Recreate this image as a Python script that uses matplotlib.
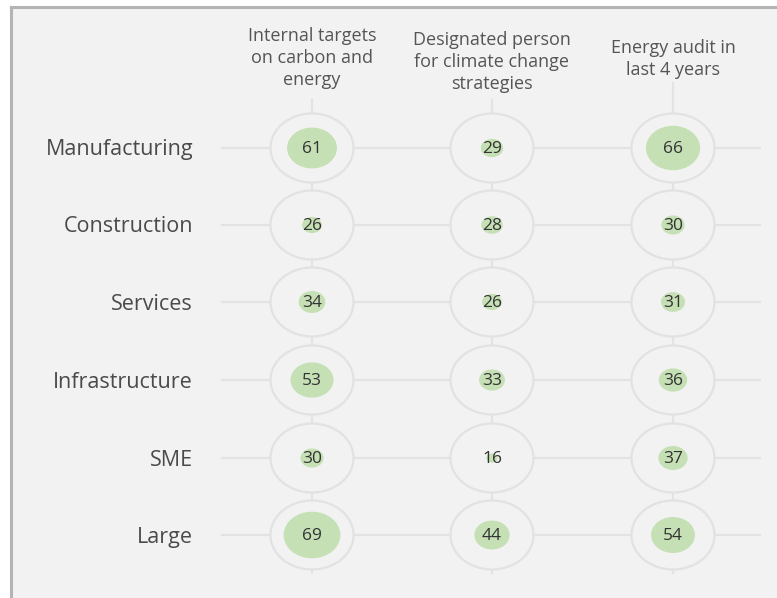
import matplotlib
matplotlib.use("Agg")
import matplotlib.pyplot as plt
from matplotlib.patches import Ellipse, Rectangle

# Share of firms (%) taking each climate action, by sector / size
categories = ["Manufacturing", "Construction", "Services", "Infrastructure", "SME", "Large"]
measures = [
    "Internal targets\non carbon and\nenergy",
    "Designated person\nfor climate change\nstrategies",
    "Energy audit in\nlast 4 years",
]
internal_targets = [61, 26, 34, 53, 30, 69]
designated_person = [29, 28, 26, 33, 16, 44]
energy_audit = [66, 30, 31, 36, 37, 54]
series = [internal_targets, designated_person, energy_audit]

W, H = 777, 598
fig = plt.figure(figsize=(W / 100, H / 100), dpi=100)
fig.patch.set_facecolor("white")
ax = fig.add_axes([0, 0, 1, 1])
ax.set_xlim(0, W)
ax.set_ylim(H, 0)
ax.axis("off")

FONT = "Open Sans"
BG = "#f2f2f2"
LINE = "#e3e3e3"
GREEN = "#c5e0b4"

# panel with border on top and left
ax.add_patch(Rectangle((11, 6.5), W, H, facecolor=BG, edgecolor="none", zorder=0))
ax.plot([11, 11], [6.5, H], color="#b4b4b4", lw=2.2, zorder=1)
ax.plot([11, W], [6.5, 6.5], color="#b4b4b4", lw=2.2, zorder=1)

col_x = [312, 492, 673]
row_y = [148, 225, 302, 380, 458, 535]
header_top = [100, 100, 83]
header_y = [58, 62, 59]

# grid lines connecting the cells
for y in row_y:
    ax.plot([222, 760], [y, y], color=LINE, lw=1.6, zorder=1)
for x, top in zip(col_x, header_top):
    ax.plot([x, x], [top, row_y[-1] + 38], color=LINE, lw=1.6, zorder=1)

OUT_W, OUT_H = 83, 69
ASPECT = 1.22
for j, (x, vals) in enumerate(zip(col_x, series)):
    ax.text(x, header_y[j], measures[j], ha="center", va="center", fontsize=13,
            family=FONT, color="#555555", linespacing=1.32)
    for y, v in zip(row_y, vals):
        ax.add_patch(Ellipse((x, y), OUT_W, OUT_H, facecolor=BG, edgecolor="#e2e2e2",
                             lw=1.6, zorder=2))
        w = 0.86 * (v - 3)
        ax.add_patch(Ellipse((x, y), w, w / ASPECT, facecolor=GREEN, edgecolor="none",
                             zorder=3))
        ax.text(x, y + 1, str(v), ha="center", va="center", fontsize=12.5, family=FONT,
                color="#333333", zorder=4)

for y, name in zip(row_y, categories):
    ax.text(193, y + 2, name, ha="right", va="center", fontsize=15.5, family=FONT,
            color="#4a4a4a")

fig.savefig("out.png", dpi=100, facecolor=fig.get_facecolor())
